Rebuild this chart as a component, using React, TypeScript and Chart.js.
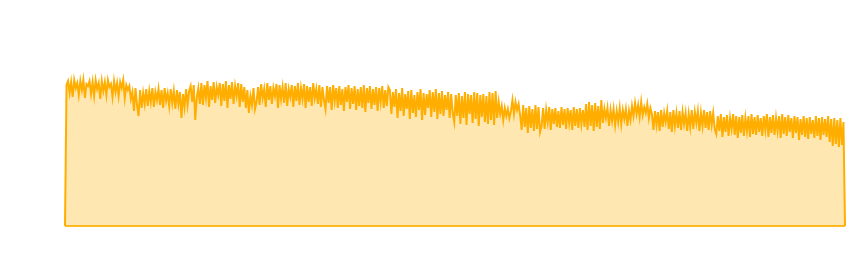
import React, { useEffect, useRef } from "react";
import { Chart, registerables } from "chart.js";

Chart.register(...registerables);

// Values, left to right (height above the baseline)
const seg1 = [141,145,133,144,129,146,138,143,131,145,136,146,128,142,140,145,132,144,130,146,137,143,127,145,135,144,131,146,139,142,129,145,134,143,130,144,138,146,128,141,136,140];
const seg2 = [127,134,115,138,121,110,136,118,133,122];
const seg3 = [137,120,135,124,138,119,134,126,137,121,136,118,138,125,133,120,137,123,135,117,136,122,134,108,132,119,137,121,135];
const seg4 = [140,124,141,106,129,138,122];
const seg5 = [143,121,141,128,145,119,140,126,144,123,139,131,143,120,142,125,145,118,141,127,144,122,140,130,143,119,142,124,139];
const seg6 = [118,136,113,130,121,138,117];
const seg7 = [124,139,121,142,128,137,119,143,126,140,122,138,130,142,118,141,127,139,123,143,120,137,129,141,119,140,125,143,121,138,127,142,118,140,124,139,120,143,128,137,122,141,119,139,126];
const seg8 = [117,140,123,139,116,141,125,138,118,140,121,137,115,139,124,141,117,138,122,140,116,137,120,139,118,141,114,138,123,140,117,137,121,139,115,138,124,140,118,136,120,139];
const seg9 = [136,112,134,119,137,108,133,115,138,110,132,117,135,107,136,113,131,109,134,116,137,106,133,111,132,118,136,109,134,114,137,107,133,112,135,110,131,116,134,108,132,113];
const seg10 = [104,131,110,133,102,130,108,134,101,132,112,131,103,134,107,133,100,131,109,132,104,130,102,134,106,133,101,135,108,124];
const seg11 = [112,120,106,118,110,117,108];
const seg12 = [115,126,112,124,116,122,111];
const seg13 = [96,121,99,118,93,120,98,117,95,121,97,119,94];
const seg14 = [100,118,97,116,104,119,96,117,102,118,99,115,98,119,101,117,97,118,103,116,96,119,100,117,98,118,102,116,99];
const seg15 = [122,96,124,100,121,95,123,99,120,97];
const seg16 = [126,103,117,108,118,100,116,105,117,101,115,104,118,102,116,107,117,100,115,106];
const seg17 = [120,110,123,112,121,109,124,111,119,113,122,108,118];
const seg18 = [112,96,115,101,114,95,116,99,113,104,115,97,114,94,116,100,113,98,115,96,114,102,113,95,112,99,116,97,114,103,115,95,113,100,116,98,114,96,115,101,113,97];
const seg19 = [92,110,95,112,89,109,94,111,90,108,97,112,91,110,88,109,93,111,90,108,95,110,89,112,92,109,91,111,94,108,90,110,96,112,89,109,93,111,91,108,95,110,88,112,92,109,90,111,94];
const seg20 = [108,88,110,93,109,86,107,91,110,89,108,87,109,92,106,88,110,90,108,86,109,91,107,89,110];
const seg21 = [84,107,80,108,82,106,79,108,81,104];

const series: number[] = [
  0,
  ...seg1, ...seg2, ...seg3, ...seg4, ...seg5, ...seg6, ...seg7,
  ...seg8, ...seg9, ...seg10, ...seg11, ...seg12, ...seg13, ...seg14,
  ...seg15, ...seg16, ...seg17, ...seg18, ...seg19, ...seg20, ...seg21,
  0,
];
const labels: number[] = series.map((_, i) => i);
const baseline: number[] = series.map(() => 0);

export default function App() {
  const ref = useRef<HTMLCanvasElement | null>(null);
  useEffect(() => {
    if (!ref.current) return;
    const chart = new Chart(ref.current, {
      type: "line",
      data: {
        labels,
        datasets: [
          {
            data: series,
            borderColor: "#ffae00",
            borderWidth: 2,
            backgroundColor: "rgba(255,176,0,0.3)",
            fill: "origin",
            pointRadius: 0,
            tension: 0,
          },
          {
            data: baseline,
            borderColor: "rgba(255,176,0,0.85)",
            borderWidth: 2,
            fill: false,
            pointRadius: 0,
            clip: false,
          },
        ],
      },
      options: {
        responsive: false,
        animation: false,
        layout: { padding: { left: 65, right: 12, top: 10, bottom: 54 } },
        plugins: { legend: { display: false }, tooltip: { enabled: false } },
        scales: {
          x: { display: false },
          y: { display: false, min: 0, max: 216 },
        },
      },
    });
    return () => chart.destroy();
  }, []);
  return (
    <div style={{ position: "absolute", left: 0, top: 0, width: 857, height: 280 }}>
      <canvas ref={ref} width={857} height={280} style={{ display: "block" }} />
    </div>
  );
}
